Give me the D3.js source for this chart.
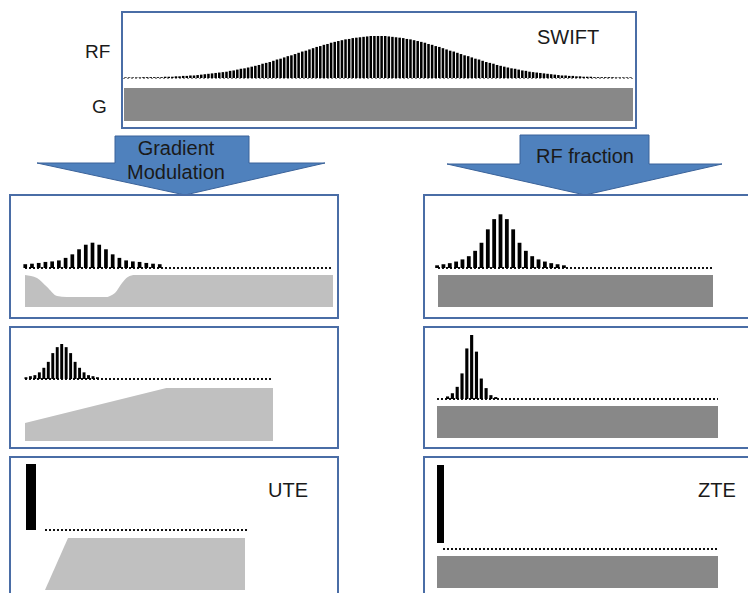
<!DOCTYPE html>
<html>
<head>
<meta charset="utf-8">
<script src="https://cdn.jsdelivr.net/npm/d3@7"></script>
<style>
  body { margin: 0; background: #fff; }
  text { font-family: "Liberation Sans", Arial, sans-serif; fill: #1a1a1a; }
</style>
</head>
<body>
<main></main>
<script>
// RF pulse amplitudes, % of each pulse train's peak
const swiftRF = [
  1.5,1.5,1.5,1.5,1.5,2,2,2,2,2,2,3,3,3,4,4,5,5,6,6,7,8,9,10,11,12,13,14,15,17,
  18,20,22,23,25,27,29,31,34,36,38,41,44,46,49,52,54,57,60,63,65,68,71,74,76,79,
  81,84,86,88,90,92,93,95,96,97,98,99,100,100,
  100,
  100,100,99,98,97,96,95,93,92,90,88,86,84,81,79,76,74,71,68,65,63,60,57,54,52,49,
  46,44,41,38,36,34,31,29,27,25,23,22,20,18,17,15,14,13,12,11,10,9,8,7,6,6,5,5,4,
  4,3,3,3,2,2,2,2,2,2,1.5,1.5,1.5,1.5,1.5
];
const gradModRF1 = [15,17,20,24,26,30,40,54,74,92,100,92,74,54,40,30,26,24,20,17,15];
const gradModRF2 = [5,8,11,19,32,49,74,91,100,91,74,49,32,19,11,8,5];
const rfFracRF1  = [5,7,9,12,16,22,32,47,72,91,100,91,72,47,32,22,16,12,9,7,5];
const rfFracRF2  = [4,9,19,40,79,100,74,32,17,6,3];
const hardPulse  = [100];

// gradient waveforms: [time %, level %]
const constGrad  = [[0,100],[100,100]];
const gradModG1  = [[0,100],[3.9,91],[7.1,63],[10.4,34],[13.6,31],[26,31],[29.2,44],
                    [31.5,75],[33.4,94],[35.7,100],[100,100]];
const gradModG2  = [[0,34],[57,100],[100,100]];
const uteGrad    = [[0,0],[11.5,100],[100,100]];

// labels
const panelLabels = { swift: 'SWIFT', ute: 'UTE', zte: 'ZTE' };
const axisLabels  = ['RF', 'G'];
const arrowLabels = [['Gradient', 'Modulation'], ['RF fraction']];

const W = 748, H = 593;
const boxColor = '#4a6da6';
const darkGray = '#888888';
const lightGray = '#c0c0c0';

var svg = d3.select('main').append('svg')
  .attr('width', W).attr('height', H);

function drawBox(x0, y0, x1, y1) {
  svg.append('rect')
    .attr('x', x0).attr('y', y0)
    .attr('width', x1 - x0).attr('height', y1 - y0)
    .attr('fill', 'none')
    .attr('stroke', boxColor)
    .attr('stroke-width', 2);
}

function drawPulses(values, p) {
  var x = d3.scaleBand().domain(d3.range(values.length))
    .range(p.band).paddingInner(p.pad).paddingOuter(0);
  var y = d3.scaleLinear().domain([0, 100]).range([p.base, p.base - p.peak]);

  svg.append('line')
    .attr('x1', p.dots[0]).attr('x2', p.dots[1])
    .attr('y1', p.dotY).attr('y2', p.dotY)
    .attr('stroke', p.dotColor || '#111')
    .attr('stroke-width', p.dotW || 2)
    .attr('stroke-dasharray', p.dash || '2,2');

  svg.append('g').selectAll('rect')
    .data(values)
    .enter()
      .append('rect')
        .attr('x', function(d, i) { return x(i); })
        .attr('y', function(d) { return y(d); })
        .attr('width', x.bandwidth())
        .attr('height', function(d) { return p.base - y(d); })
        .attr('fill', '#000');
}

function drawGradient(wave, g) {
  var x = d3.scaleLinear().domain([0, 100]).range([g.x0, g.x1]);
  var y = d3.scaleLinear().domain([0, 100]).range([g.bottom, g.top]);
  var area = d3.area()
    .x(function(d) { return x(d[0]); })
    .y0(g.bottom)
    .y1(function(d) { return y(d[1]); })
    .curve(g.curve || d3.curveLinear);
  svg.append('path')
    .datum(wave)
    .attr('d', area)
    .attr('fill', g.color);
}

function drawArrow(pts, lines, cx, ys) {
  svg.append('path')
    .attr('d', d3.line()(pts) + 'Z')
    .attr('fill', '#4f81bd')
    .attr('stroke', '#3b639a')
    .attr('stroke-width', 1);
  svg.append('g').selectAll('text')
    .data(lines)
    .enter()
      .append('text')
        .attr('x', cx)
        .attr('y', function(d, i) { return ys[i]; })
        .attr('text-anchor', 'middle')
        .attr('font-size', '20px')
        .text(function(d) { return d; });
}

// ---- top SWIFT box
drawBox(122, 12, 636, 128);
drawGradient(constGrad, { x0: 124, x1: 633, top: 88, bottom: 121, color: darkGray });
drawPulses(swiftRF, { band: [124.2, 631.8], pad: 0.3, base: 78, peak: 42,
  dots: [123, 633], dotY: 78.5, dotColor: '#888', dotW: 1 });
svg.append('text').attr('x', 537).attr('y', 44).attr('font-size', '20px').text(panelLabels.swift);
svg.append('text').attr('x', 85).attr('y', 58).attr('font-size', '19px').text(axisLabels[0]);
svg.append('text').attr('x', 92).attr('y', 113).attr('font-size', '19px').text(axisLabels[1]);

// ---- arrows
drawArrow([[115,136],[249,136],[249,163],[325,163],[185,195],[37,163],[115,163]],
  arrowLabels[0], 176, [155, 179]);
drawArrow([[520,135],[649,135],[649,164],[722,164],[585,195],[447,164],[520,164]],
  arrowLabels[1], 585, [163]);

// ---- left column: gradient modulation
drawBox(10, 195, 338, 318);
drawGradient(gradModG1, { x0: 25, x1: 333, top: 275, bottom: 307, color: lightGray,
  curve: d3.curveMonotoneX });
drawPulses(gradModRF1, { band: [23.4, 161.6], pad: 0.45, base: 268, peak: 25.3,
  dots: [25, 333], dotY: 268 });

drawBox(10, 327, 338, 448);
drawGradient(gradModG2, { x0: 25, x1: 273, top: 388, bottom: 441, color: lightGray });
drawPulses(gradModRF2, { band: [24.5, 98.9], pad: 0.35, base: 379, peak: 35,
  dots: [25, 273], dotY: 379 });

drawBox(10, 457, 338, 610);
drawGradient(uteGrad, { x0: 45, x1: 245, top: 538, bottom: 590, color: lightGray });
drawPulses(hardPulse, { band: [26, 36], pad: 0, base: 530, peak: 66,
  dots: [45, 248], dotY: 530 });
svg.append('text').attr('x', 268).attr('y', 497).attr('font-size', '20px').text(panelLabels.ute);

// ---- right column: RF fraction
drawBox(424, 195, 760, 318);
drawGradient(constGrad, { x0: 438, x1: 713, top: 275, bottom: 307, color: darkGray });
drawPulses(rfFracRF1, { band: [435.2, 565.8], pad: 0.4, base: 268, peak: 53.7,
  dots: [438, 713], dotY: 268 });

drawBox(424, 327, 760, 448);
drawGradient(constGrad, { x0: 437, x1: 718, top: 406, bottom: 438, color: darkGray });
drawPulses(rfFracRF2, { band: [446, 497.3], pad: 0.35, base: 399, peak: 64,
  dots: [437, 718], dotY: 399 });

drawBox(424, 457, 760, 610);
drawGradient(constGrad, { x0: 437, x1: 718, top: 556, bottom: 588, color: darkGray });
drawPulses(hardPulse, { band: [437, 444], pad: 0, base: 543, peak: 78,
  dots: [443, 718], dotY: 549 });
svg.append('text').attr('x', 698).attr('y', 497).attr('font-size', '20px').text(panelLabels.zte);
</script>
</body>
</html>
